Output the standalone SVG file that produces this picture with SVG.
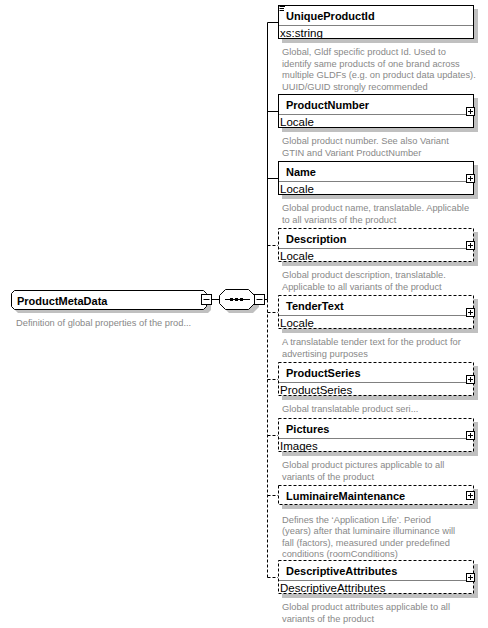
<svg xmlns="http://www.w3.org/2000/svg" width="488" height="628" viewBox="0 0 488 628">
<style>
.bg{fill:#ffffff}
.sh{fill:#c0c0c0}
.bx{fill:#ffffff;stroke:#000;stroke-width:1}
.bxd{fill:#ffffff;stroke:#000;stroke-width:1;stroke-dasharray:3,2}
.dv{stroke:#808080;stroke-width:1}
.ln{stroke:#000;stroke-width:1;fill:none}
.lnd{stroke:#000;stroke-width:1;fill:none;stroke-dasharray:3,2}
.nm{font-family:"Liberation Sans",Arial,sans-serif;font-size:11px;font-weight:bold;fill:#000}
.ty{font-family:"Liberation Sans",Arial,sans-serif;font-size:11.5px;fill:#000}
.ds{font-family:"Liberation Sans",Arial,sans-serif;font-size:9.3px;fill:#888888}
.pm{fill:#fff;stroke:#000;stroke-width:1}
</style>
<defs>
<g id="plus"><rect class="pm" x="466.5" y="-3.5" width="8" height="8"/><path class="ln" d="M468 0.5H473M470.5 -2V3"/></g>
</defs>
<rect class="bg" x="0" y="0" width="488" height="628"/>

<g id="connectors">
<path class="ln" d="M211.5 299.5H219"/>
<path class="ln" d="M264.5 299.5H267.5"/>
<path class="ln" d="M267.5 22.5V299.5"/>
<path class="ln" d="M267.5 22.5H278M267.5 111.5H278M267.5 178.5H278"/>
<path class="lnd" d="M267.5 245.5H278M267.5 299.5V577.5M267.5 312.5H278M267.5 379.5H278M267.5 435.5H278M267.5 495.5H278M267.5 577.5H278"/>
</g>

<g id="ProductMetaData">
<polygon class="sh" points="18,294 208,294 211,297 211,310 208,313 18,313 15,310 15,297"/>
<polygon class="bx" points="14.5,290.5 203.5,290.5 206.5,293.5 206.5,306.5 203.5,309.5 14.5,309.5 11.5,306.5 11.5,293.5"/>
<text class="nm" x="17" y="304.5">ProductMetaData</text>
<rect class="pm" x="201.5" y="294.5" width="10" height="10"/>
<path class="ln" d="M203.5 299.5H209.5"/>
<text class="ds" x="16" y="326">Definition of global properties of the prod...</text>
</g>

<g id="sequence">
<polygon class="sh" points="229,293 253,293 259,299 259,307 253,313 229,313 223,307 223,299"/>
<polygon class="bx" points="225.5,289.5 248.5,289.5 254.5,295.5 254.5,303.5 248.5,309.5 225.5,309.5 219.5,303.5 219.5,295.5"/>
<path class="ln" d="M225 299.5H250"/>
<rect x="230" y="298" width="3" height="3" fill="#000"/>
<rect x="235" y="298" width="3" height="3" fill="#000"/>
<rect x="240" y="298" width="3" height="3" fill="#000"/>
<rect class="pm" x="254.5" y="294.5" width="10" height="10"/>
<path class="ln" d="M256.5 299.5H262.5"/>
</g>

<g id="UniqueProductId">
<rect class="sh" x="282" y="9" width="196" height="34"/>
<rect class="bx" x="278.5" y="5.5" width="195" height="33"/>
<path class="dv" d="M279 25.5H473"/>
<path class="ln" d="M279.5 6.5H285M279.5 8.5H284M279.5 10.5H284"/>
<text class="nm" x="286" y="20">UniqueProductId</text>
<text class="ty" x="280" y="37">xs:string</text>
<text class="ds" x="282"><tspan x="282" y="55">Global, Gldf specific product Id. Used to</tspan><tspan x="282" y="66.5">identify same products of one brand across</tspan><tspan x="282" y="78">multiple GLDFs (e.g. on product data updates).</tspan><tspan x="282" y="89.5">UUID/GUID strongly recommended</tspan></text>
</g>

<g id="ProductNumber">
<rect class="sh" x="282" y="98" width="196" height="34"/>
<rect class="bx" x="278.5" y="94.5" width="195" height="33"/>
<path class="dv" d="M279 114.5H473"/>
<text class="nm" x="286" y="109">ProductNumber</text>
<text class="ty" x="280" y="126">Locale</text>
<use href="#plus" y="111"/>
<text class="ds"><tspan x="282" y="144">Global product number. See also Variant</tspan><tspan x="282" y="155.5">GTIN and Variant ProductNumber</tspan></text>
</g>

<g id="Name">
<rect class="sh" x="282" y="165" width="196" height="34"/>
<rect class="bx" x="278.5" y="161.5" width="195" height="33"/>
<path class="dv" d="M279 181.5H473"/>
<text class="nm" x="286" y="176">Name</text>
<text class="ty" x="280" y="193">Locale</text>
<use href="#plus" y="178"/>
<text class="ds"><tspan x="282" y="211">Global product name, translatable. Applicable</tspan><tspan x="282" y="222.5">to all variants of the product</tspan></text>
</g>

<g id="Description">
<rect class="sh" x="282" y="232" width="196" height="34"/>
<rect class="bxd" x="278.5" y="228.5" width="195" height="33"/>
<path class="dv" d="M279 248.5H473"/>
<text class="nm" x="286" y="243">Description</text>
<text class="ty" x="280" y="260">Locale</text>
<use href="#plus" y="245"/>
<text class="ds"><tspan x="282" y="278">Global product description, translatable.</tspan><tspan x="282" y="289.5">Applicable to all variants of the product</tspan></text>
</g>

<g id="TenderText">
<rect class="sh" x="282" y="299" width="196" height="34"/>
<rect class="bxd" x="278.5" y="295.5" width="195" height="33"/>
<path class="dv" d="M279 315.5H473"/>
<text class="nm" x="286" y="310">TenderText</text>
<text class="ty" x="280" y="327">Locale</text>
<use href="#plus" y="312"/>
<text class="ds"><tspan x="282" y="345">A translatable tender text for the product for</tspan><tspan x="282" y="356.5">advertising purposes</tspan></text>
</g>

<g id="ProductSeries">
<rect class="sh" x="282" y="366" width="196" height="34"/>
<rect class="bxd" x="278.5" y="362.5" width="195" height="33"/>
<path class="dv" d="M279 382.5H473"/>
<text class="nm" x="286" y="377">ProductSeries</text>
<text class="ty" x="280" y="394">ProductSeries</text>
<use href="#plus" y="379"/>
<text class="ds" x="282" y="412">Global translatable product seri...</text>
</g>

<g id="Pictures">
<rect class="sh" x="282" y="422" width="196" height="34"/>
<rect class="bxd" x="278.5" y="418.5" width="195" height="33"/>
<path class="dv" d="M279 438.5H473"/>
<text class="nm" x="286" y="433">Pictures</text>
<text class="ty" x="280" y="450">Images</text>
<use href="#plus" y="435"/>
<text class="ds"><tspan x="282" y="468">Global product pictures applicable to all</tspan><tspan x="282" y="479.5">variants of the product</tspan></text>
</g>

<g id="LuminaireMaintenance">
<rect class="sh" x="282" y="489" width="196" height="20"/>
<rect class="bxd" x="278.5" y="485.5" width="195" height="19"/>
<text class="nm" x="286" y="499.5">LuminaireMaintenance</text>
<use href="#plus" y="495"/>
<text class="ds"><tspan x="282" y="522.5">Defines the ‘Application Life’. Period</tspan><tspan x="282" y="534">(years) after that luminaire illuminance will</tspan><tspan x="282" y="545.5">fall (factors), measured under predefined</tspan><tspan x="282" y="557">conditions (roomConditions)</tspan></text>
</g>

<g id="DescriptiveAttributes">
<rect class="sh" x="282" y="564" width="196" height="34"/>
<rect class="bxd" x="278.5" y="560.5" width="195" height="33"/>
<path class="dv" d="M279 580.5H473"/>
<text class="nm" x="286" y="575">DescriptiveAttributes</text>
<text class="ty" x="280" y="592">DescriptiveAttributes</text>
<use href="#plus" y="577"/>
<text class="ds"><tspan x="282" y="610">Global product attributes applicable to all</tspan><tspan x="282" y="621.5">variants of the product</tspan></text>
</g>
</svg>
